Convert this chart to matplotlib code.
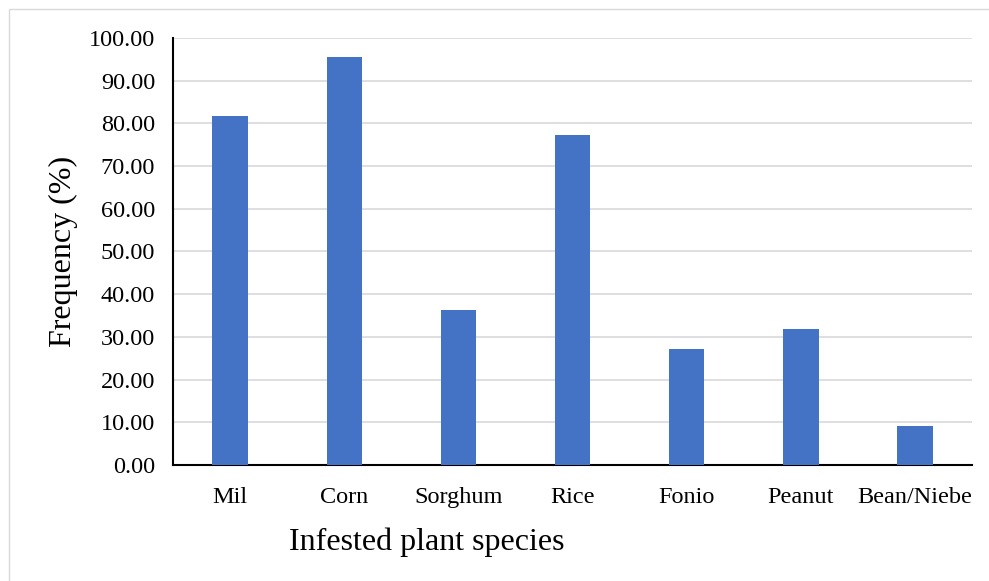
import matplotlib.pyplot as plt
from matplotlib.patches import Rectangle

categories = ["Mil", "Corn", "Sorghum", "Rice", "Fonio", "Peanut", "Bean/Niebe"]
frequency = [81.82, 95.45, 36.36, 77.27, 27.27, 31.82, 9.09]
yticks = [0, 10, 20, 30, 40, 50, 60, 70, 80, 90, 100]

plt.rcParams["font.family"] = ["Liberation Serif", "DejaVu Serif"]

fig = plt.figure(figsize=(9.89, 5.81), dpi=100)
ax = fig.add_axes([0.175, 0.1997, 0.808, 0.7349])

x = range(len(categories))
ax.bar(x, frequency, width=0.31, color="#4472C4", zorder=3)

ax.set_xlim(-0.5, len(categories) - 0.5)
ax.set_ylim(0, 100)
ax.set_yticks(yticks)
ax.set_yticklabels([f"{v:.2f}" for v in yticks], fontsize=17.5)
ax.set_xticks(list(x))
ax.set_xticklabels(categories, fontsize=17.5)
ax.tick_params(axis="x", length=0, pad=16)
ax.tick_params(axis="y", length=0, pad=13)
ax.grid(axis="y", color="#d9d9d9", linewidth=1.2, zorder=0)

for side in ["top", "right"]:
    ax.spines[side].set_visible(False)
for side in ["left", "bottom"]:
    ax.spines[side].set_linewidth(1.5)
    ax.spines[side].set_color("black")

ax.set_ylabel("Frequency (%)", fontsize=23, va="center")
ax.yaxis.set_label_coords(-0.137, 0.5)
ax.set_xlabel("Infested plant species", fontsize=23, va="center")
ax.xaxis.set_label_coords(0.317, -0.18)

fig.patches.append(Rectangle((9 / 989, -0.05), 1.1, 1.05 - 9 / 581,
                             transform=fig.transFigure, fill=False,
                             edgecolor="#d9d9d9", linewidth=1.0))

fig.savefig("out.png", dpi=100)
